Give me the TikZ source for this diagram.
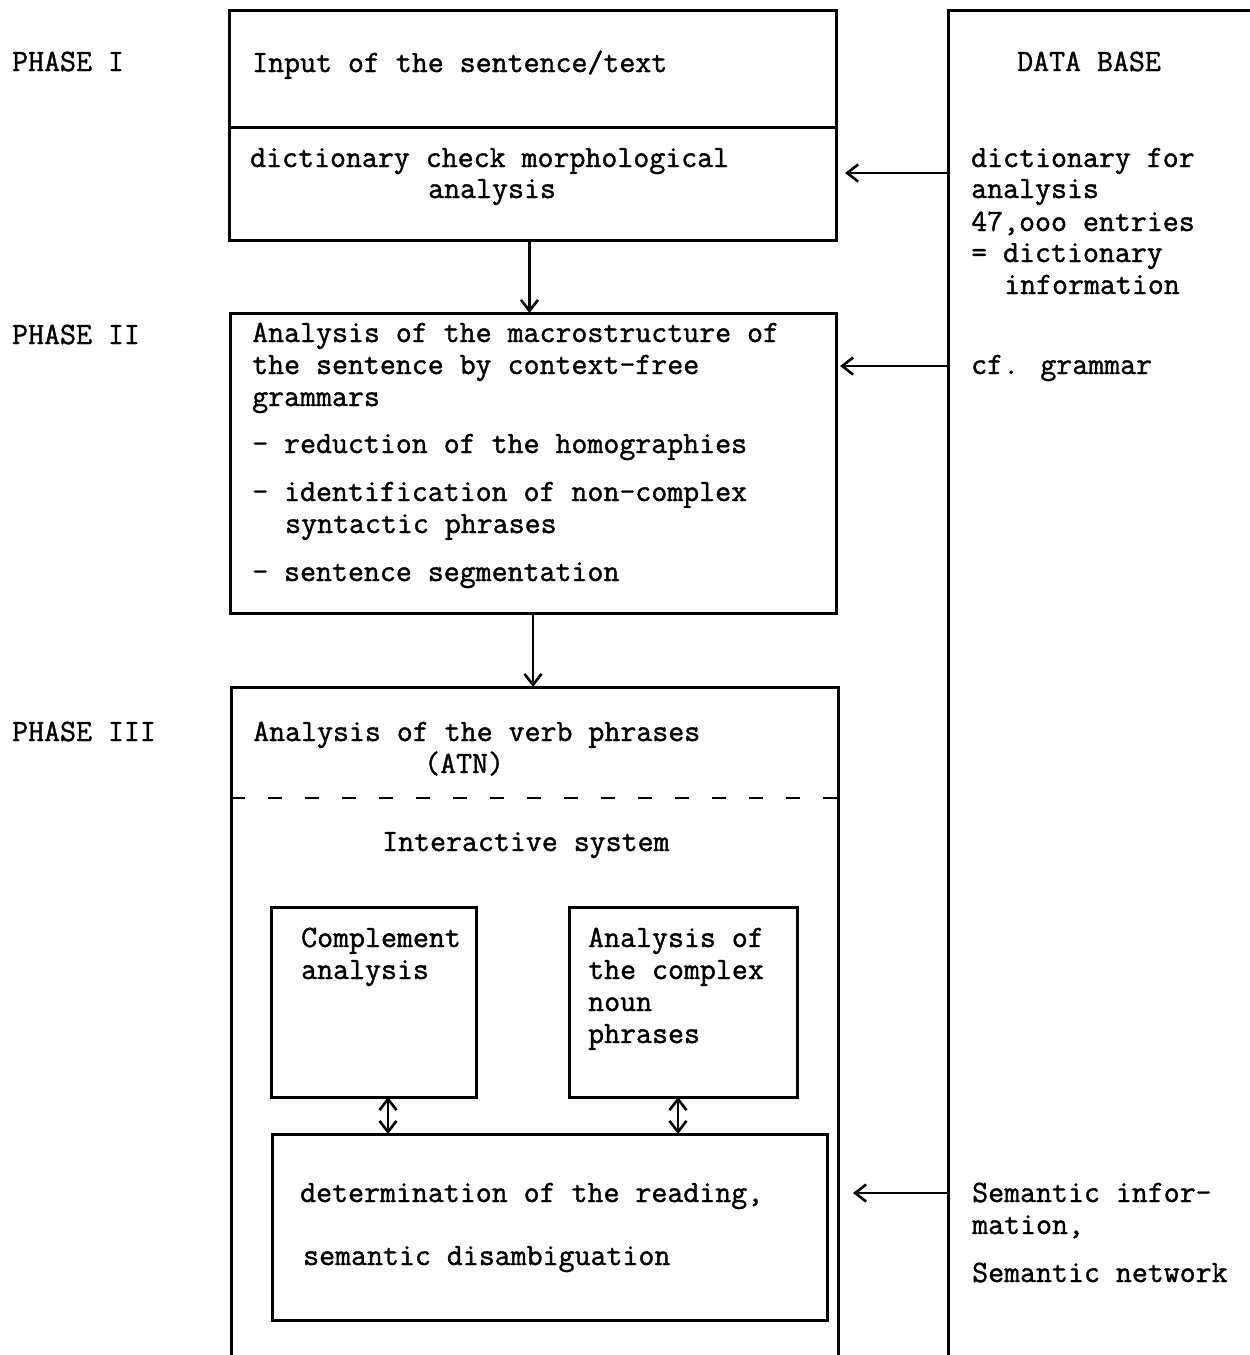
\documentclass[tikz,border=0pt]{standalone}
\usepackage{fontspec}
\usetikzlibrary{arrows.meta}
\newfontfamily\labelmono{Latin Modern Mono}[FakeBold=1.3]
\begin{document}
\begin{tikzpicture}[x=1pt, y=-1pt,
  frame/.style={draw, line width=3pt, inner sep=0pt, outer sep=0pt, anchor=north west},
  edge/.style={line width=3pt},
  txt/.style={anchor=base west, inner sep=0pt, font=\fontsize{31}{32}\selectfont\labelmono\bfseries},
  tip/.tip={Straight Barb[length=11pt, width=17pt, line width=2.6pt]},
  link/.style={line width=2.6pt, -tip},
  dlink/.style={line width=2.6pt, tip-tip},
]
\useasboundingbox (0,0) rectangle (1250,1355);

% phase labels
\node[txt] (p1) at (12,71)  {PHASE I};
\node[txt] (p2) at (12,344) {PHASE II};
\node[txt] (p3) at (12,741) {PHASE III};

% phase I box
\node[frame, minimum width=607pt, minimum height=230pt] (inp) at (229,10) {};
\coordinate (div1) at (0,127);
\draw[edge] (inp.west |- div1) -- (inp.east |- div1);
\node[txt] (inpA) at (252,72)  {Input of the sentence/text};
\node[txt] (inpB) at (250,167) {dictionary check morphological};
\node[txt] (inpC) at (428,198) {analysis};

% phase II box
\node[frame, minimum width=606pt, minimum height=300pt] (mac) at (230,313) {};
\node[txt] (macA) at (252,342) {Analysis of the macrostructure of};
\node[txt] (macB) at (252,374) {the sentence by context-free};
\node[txt] (macC) at (252,406) {grammars};
\node[txt] (macD) at (252,453) {- reduction of the homographies};
\node[txt] (macE) at (252,501) {- identification of non-complex};
\node[txt] (macF) at (285,533) {syntactic phrases};
\node[txt] (macG) at (252,581) {- sentence segmentation};

% phase III frame (continues below)
\coordinate (vpSW) at (231,1355);
\coordinate (vpNW) at (231,687);
\coordinate (vpNE) at (838,687);
\coordinate (vpSE) at (838,1355);
\draw[edge] (vpSW) -- (vpNW) -- (vpNE) -- (vpSE);
\coordinate (dash) at (0,798);
\draw[line width=2.6pt, dash pattern=on 14pt off 23pt] (vpNW |- dash) -- (vpNE |- dash);
\node[txt] (vpA) at (253,741) {Analysis of the verb phrases};
\node[txt] (vpB) at (424,773) {(ATN)};
\node[txt] (vpC) at (382,851) {Interactive system};

% inner boxes
\node[frame, minimum width=205pt, minimum height=190pt] (comp) at (271,907) {};
\node[txt] (compA) at (301,947) {Complement};
\node[txt] (compB) at (301,979) {analysis};

\node[frame, minimum width=228pt, minimum height=190pt] (anp) at (569,907) {};
\node[txt] (anpA) at (588,947)  {Analysis of};
\node[txt] (anpB) at (588,979)  {the complex};
\node[txt] (anpC) at (588,1011) {noun};
\node[txt] (anpD) at (588,1043) {phrases};

\node[frame, minimum width=555pt, minimum height=186pt] (det) at (272,1134) {};
\node[txt] (detA) at (300,1202) {determination of the reading,};
\node[txt] (detB) at (303,1265) {semantic disambiguation};

% data base column
\coordinate (dbSW) at (948,1355);
\coordinate (dbNW) at (948,10);
\coordinate (dbNE) at (1250,10);
\draw[edge] (dbSW) -- (dbNW) -- (dbNE);
\node[txt] (dbA) at (1017,71)  {DATA BASE};
\node[txt] (dbB) at (971,167)  {dictionary for};
\node[txt] (dbC) at (971,198)  {analysis};
\node[txt] (dbD) at (971,231)  {47,ooo entries};
\node[txt] (dbE) at (971,262)  {= dictionary};
\node[txt] (dbF) at (1004,294) {information};
\node[txt] (dbG) at (971,374)  {cf. grammar};
\node[txt] (dbH) at (972,1202) {Semantic infor-};
\node[txt] (dbI) at (972,1234) {mation,};
\node[txt] (dbJ) at (972,1282) {Semantic network};

% flow between phases
\draw[link] ([xshift=-3pt]inp.south) -- ([xshift=-3pt]inp.south |- mac.north);
\draw[link] (mac.south) -- (mac.south |- vpNW);

% interaction inside phase III
\draw[dlink] ([xshift=14.5pt]comp.south) -- ([xshift=14.5pt]comp.south |- det.north);
\draw[dlink] ([xshift=-5pt]anp.south) -- ([xshift=-5pt]anp.south |- det.north);

% data base inputs
\coordinate (db1) at (948,173);
\coordinate (db2) at (948,366);
\coordinate (db3) at (948,1193);
\draw[link] (db1) -- ([xshift=9pt]inp.east |- db1);
\draw[link] (db2) -- ([xshift=4pt]mac.east |- db2);
\draw[link] (db3) -- ([xshift=15pt]vpNE |- db3);
\end{tikzpicture}
\end{document}
